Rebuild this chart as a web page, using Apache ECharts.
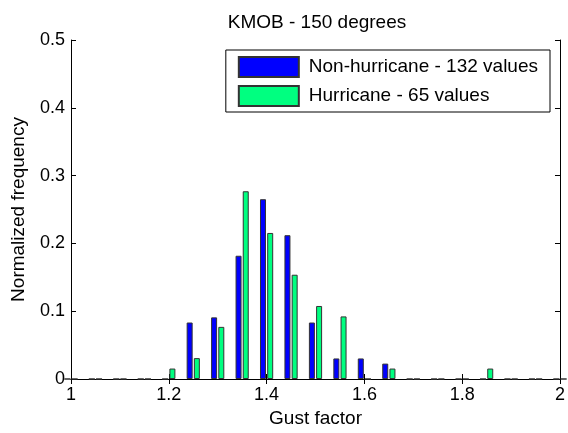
<!DOCTYPE html>
<html>
<head>
<meta charset="utf-8">
<script src="https://cdn.jsdelivr.net/npm/echarts@6/dist/echarts.min.js"></script>
<style>
  html, body { margin: 0; padding: 0; background: #fff; }
  #chart { width: 568px; height: 433px; }
</style>
</head>
<body>
<div id="chart"></div>
<script>
// bin centres (gust factor)
var bins = [1.0, 1.05, 1.1, 1.15, 1.2, 1.25, 1.3, 1.35, 1.4, 1.45, 1.5,
            1.55, 1.6, 1.65, 1.7, 1.75, 1.8, 1.85, 1.9, 1.95, 2.0];
var nonHurricane = [0, 0, 0, 0, 0, 0.0833, 0.0909, 0.1818, 0.2652, 0.2121, 0.0833,
                    0.0303, 0.0303, 0.0227, 0, 0, 0, 0, 0, 0, 0];
var hurricane = [0, 0, 0, 0, 0.0154, 0.0308, 0.0769, 0.2769, 0.2154, 0.1538, 0.1077,
                 0.0923, 0, 0.0154, 0, 0, 0, 0.0154, 0, 0, 0];
var seriesNames = ['Non-hurricane - 132 values', 'Hurricane - 65 values'];

function pairs(vals) {
  var out = [];
  for (var i = 0; i < bins.length; i++) out.push([bins[i], vals[i]]);
  return out;
}

var font = 'Liberation Sans, Arial, sans-serif';
var fs = 18;
var axisCommon = {
  axisLine : { lineStyle : { color : '#000', width : 1 } },
  axisTick : { inside : true, length : 5, lineStyle : { color : '#000' } },
  splitLine : { show : false }
};
function fmt(v) { return +v.toFixed(1) + ''; }

var option = {
  animation : false,
  backgroundColor : '#fff',
  title : {
    text : 'KMOB - 150 degrees',
    left : 312, top : 8, textAlign : 'center',
    textStyle : { fontFamily : font, fontSize : 19, fontWeight : 'normal', color : '#000' }
  },
  legend : {
    orient : 'vertical',
    right : 18, top : 50,
    icon : 'rect',
    itemWidth : 60, itemHeight : 20, itemGap : 7,
    padding : [6, 12, 5, 12],
    borderColor : '#000', borderWidth : 1,
    backgroundColor : '#fff',
    textStyle : { fontFamily : font, fontSize : 19, color : '#000', padding : [0, 0, 0, 5] },
    data : seriesNames
  },
  grid : { left : 71, right : 7, top : 40, bottom : 50 },
  xAxis : [
    Object.assign({
      type : 'value', min : 1, max : 2, interval : 0.2,
      name : 'Gust factor', nameLocation : 'middle', nameGap : 30,
      nameTextStyle : { fontFamily : font, fontSize : 19, color : '#000' },
      axisLabel : { fontFamily : font, fontSize : fs, color : '#000', margin : 7, formatter : fmt }
    }, axisCommon),
    Object.assign({
      type : 'value', min : 1, max : 2, interval : 0.2, position : 'top',
      axisLabel : { show : false }
    }, axisCommon)
  ],
  yAxis : [
    Object.assign({
      type : 'value', min : 0, max : 0.5, interval : 0.1,
      name : 'Normalized frequency', nameLocation : 'middle', nameGap : 43,
      nameTextStyle : { fontFamily : font, fontSize : 19, color : '#000' },
      axisLabel : { fontFamily : font, fontSize : fs, color : '#000', margin : 6, formatter : fmt }
    }, axisCommon),
    Object.assign({
      type : 'value', min : 0, max : 0.5, interval : 0.1, position : 'right',
      axisLabel : { show : false }
    }, axisCommon)
  ],
  series : [
    {
      name : seriesNames[0], type : 'bar',
      barWidth : 6, barGap : '20%',
      itemStyle : { color : '#0000ff', borderColor : '#333', borderWidth : 1 },
      data : pairs(nonHurricane)
    },
    {
      name : seriesNames[1], type : 'bar',
      barWidth : 6, barGap : '20%',
      itemStyle : { color : '#00ff80', borderColor : '#333', borderWidth : 1 },
      data : pairs(hurricane)
    }
  ]
};

var chart = echarts.init(document.getElementById('chart'));
chart.setOption(option);
</script>
</body>
</html>
